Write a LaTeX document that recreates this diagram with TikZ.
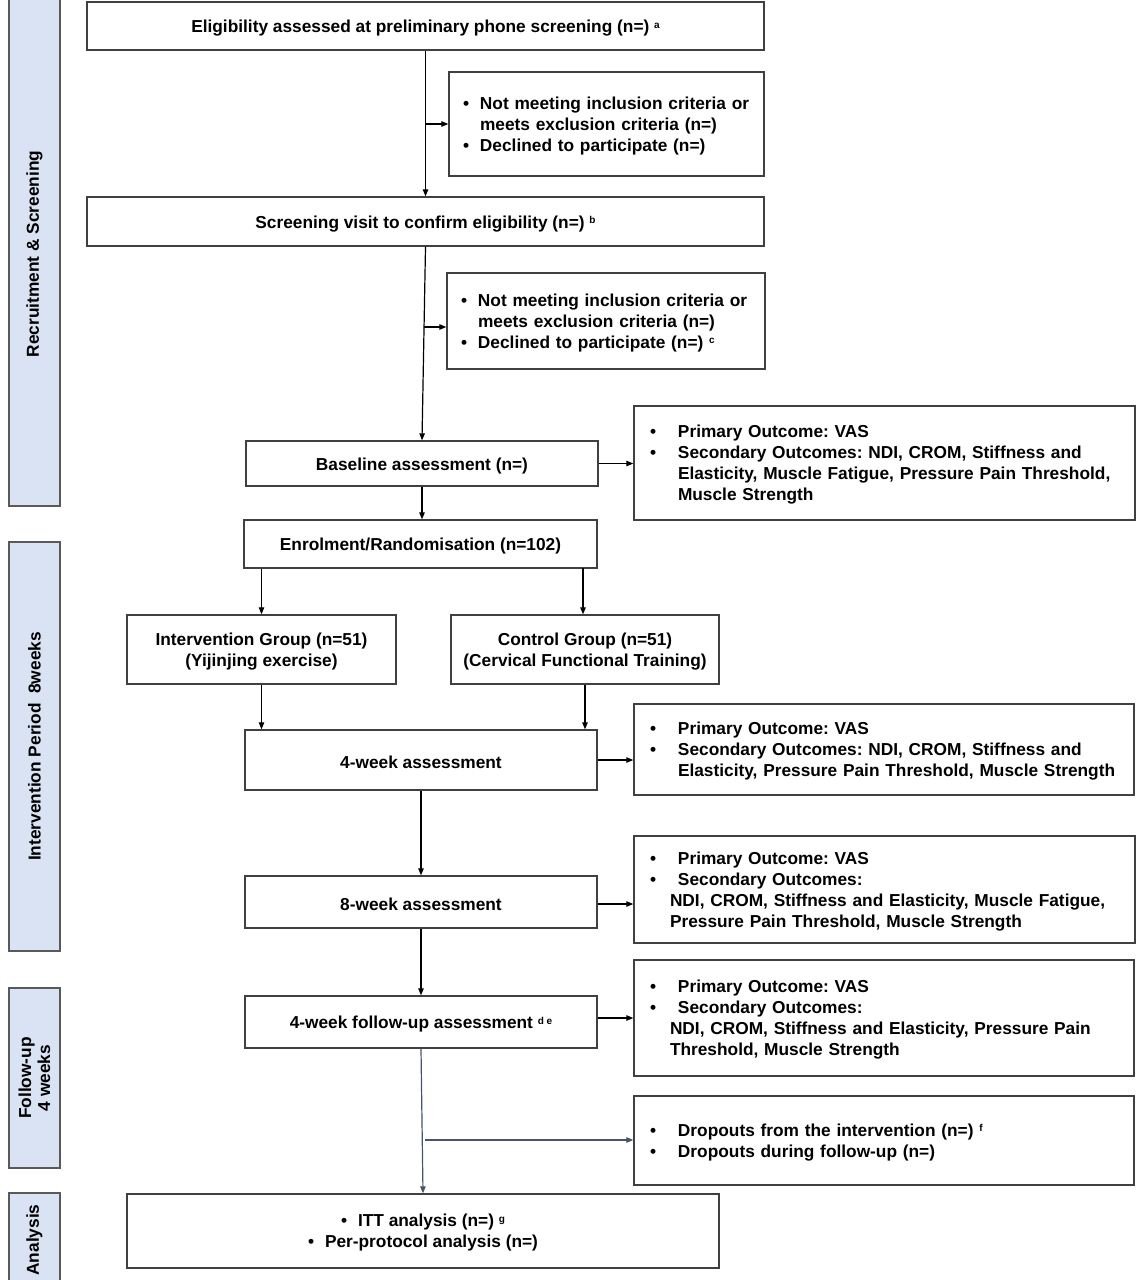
\documentclass[tikz,border=0pt]{standalone}
\usepackage{fontspec}
\setmainfont{Liberation Sans}
\usetikzlibrary{arrows.meta}
\definecolor{barfill}{HTML}{DAE3F3}
\definecolor{barline}{HTML}{595959}
\definecolor{boxline}{HTML}{404040}
\definecolor{slate}{HTML}{44546A}
\frenchspacing
\newcommand{\sups}[1]{{\fontsize{10}{10}\selectfont\raisebox{4.5pt}{#1}}}
\newcommand{\bul}{\makebox[28pt][l]{•}}
\newcommand{\bulx}{\makebox[17pt][l]{•}}
\newcommand{\lowr}[1]{\raisebox{-2.2pt}[\height][\depth]{#1}}
\begin{document}
\begin{tikzpicture}[x=1pt,y=-1pt,
  every node/.style={font=\fontsize{17.3}{21}\selectfont\bfseries},
  box/.style={draw=boxline, line width=1.4pt, fill=white, inner sep=0pt, align=center},
  outbox/.style={box, align=left, inner xsep=16pt, inner ysep=0pt},
  bar/.style={draw=barline, line width=1.4pt, fill=barfill, inner sep=0pt},
  barlabel/.style={rotate=90, align=center},
  arr/.style={-{Triangle[length=7pt,width=5.5pt]}, line width=1.2pt, black},
  arrs/.style={-{Triangle[length=7pt,width=5.5pt]}, line width=1.2pt, slate}
]
\useasboundingbox (0,0) rectangle (1138,1280);
% phase bars
\node[bar, minimum width=51pt, minimum height=512pt] (bar1) at (34.5,250) {};
\node[bar, minimum width=51pt, minimum height=409pt] (bar2) at (34.5,746.5) {};
\node[bar, minimum width=51pt, minimum height=180pt] (bar3) at (34.5,1078) {};
\node[bar, minimum width=51pt, minimum height=100pt] (bar4) at (34.5,1243) {};
\node[barlabel] (lab1) at (bar1.center |- 0,254) {Recruitment \& Screening};
\node[barlabel] (lab2) at (bar2.center) {Intervention Period\ \ 8weeks};
\node[barlabel, font=\fontsize{17.3}{19}\selectfont\bfseries] (lab3) at (bar3.center) {Follow-up\\4 weeks};
\node[barlabel] (lab4) at (34.5,1240) {Analysis};

% main boxes
\node[box, minimum width=677pt, minimum height=48pt] (A) at (425.5,26) {\lowr{Eligibility assessed at preliminary phone screening (n=) \sups{a}}};
\node[outbox, inner xsep=14pt, text width=287pt, minimum height=104pt] (X1) at (606.5,124) {\lowr{\begin{tabular}{@{}l@{}}\bulx Not meeting inclusion criteria or\\ \hspace*{17pt}meets exclusion criteria (n=)\\ \bulx Declined to participate (n=)\end{tabular}}};
\node[box, minimum width=677pt, minimum height=49pt] (B) at (425.5,221.5) {\lowr{Screening visit to confirm eligibility (n=) \sups{b}}};
\node[outbox, inner xsep=14pt, text width=290pt, minimum height=96pt] (X2) at (606,321) {\lowr{\begin{tabular}{@{}l@{}}\bulx Not meeting inclusion criteria or\\ \hspace*{17pt}meets exclusion criteria (n=)\\ \bulx Declined to participate (n=) \sups{c}\end{tabular}}};
\node[box, minimum width=352pt, minimum height=45pt] (Base) at (422,463.5) {\lowr{Baseline assessment (n=)}};
\node[outbox, text width=469pt, minimum height=114pt] (O1) at (884.5,463) {\lowr{\begin{tabular}{@{}l@{}}\bul Primary Outcome: VAS\\ \bul Secondary Outcomes: NDI, CROM, Stiffness and\\ \hspace*{28pt}Elasticity, Muscle Fatigue, Pressure Pain Threshold,\\ \hspace*{28pt}Muscle Strength\end{tabular}}};
\node[box, minimum width=353pt, minimum height=48pt] (Enrol) at (420.5,544) {\lowr{Enrolment/Randomisation (n=102)}};
\node[box, minimum width=269pt, minimum height=69pt] (IG) at (261.5,649.5) {\lowr{\begin{tabular}{@{}c@{}}Intervention Group (n=51)\\(Yijinjing exercise)\end{tabular}}};
\node[box, minimum width=268pt, minimum height=69pt] (CG) at (585,649.5) {\lowr{\begin{tabular}{@{}c@{}}Control Group (n=51)\\(Cervical Functional Training)\end{tabular}}};
\node[box, minimum width=352pt, minimum height=60pt] (W4) at (421,760) {\lowr{4-week assessment}};
\node[outbox, text width=468pt, minimum height=91pt] (O2) at (884,749.5) {\lowr{\begin{tabular}{@{}l@{}}\bul Primary Outcome: VAS\\ \bul Secondary Outcomes: NDI, CROM, Stiffness and\\ \hspace*{28pt}Elasticity, Pressure Pain Threshold, Muscle Strength\end{tabular}}};
\node[box, minimum width=352pt, minimum height=52pt] (W8) at (421,902) {\lowr{8-week assessment}};
\node[outbox, text width=469pt, minimum height=107pt] (O3) at (884.5,889.5) {\lowr{\begin{tabular}{@{}l@{}}\bul Primary Outcome: VAS\\ \bul Secondary Outcomes:\\ \hspace*{20pt}NDI, CROM, Stiffness and Elasticity, Muscle Fatigue,\\ \hspace*{20pt}Pressure Pain Threshold, Muscle Strength\end{tabular}}};
\node[box, minimum width=352pt, minimum height=52pt] (FU) at (421,1022) {\lowr{4-week follow-up assessment \sups{d e}}};
\node[outbox, text width=468pt, minimum height=116pt] (O4) at (884,1018) {\lowr{\begin{tabular}{@{}l@{}}\bul Primary Outcome: VAS\\ \bul Secondary Outcomes:\\ \hspace*{20pt}NDI, CROM, Stiffness and Elasticity, Pressure Pain\\ \hspace*{20pt}Threshold, Muscle Strength\end{tabular}}};
\node[outbox, text width=468pt, minimum height=89pt] (DO) at (884,1140.5) {\lowr{\begin{tabular}{@{}l@{}}\bul Dropouts from the intervention (n=) \sups{f}\\ \bul Dropouts during follow-up (n=)\end{tabular}}};
\node[box, minimum width=592pt, minimum height=74pt] (AN) at (423,1231) {\lowr{\begin{tabular}{@{}c@{}}\bulx ITT analysis (n=) \sups{g}\\ \bulx Per-protocol analysis (n=)\end{tabular}}};

% junction points
\coordinate (j1) at (A.south |- X1.west);
\coordinate (j2) at (424,327);
\coordinate (j3) at (424.5,1140);
\coordinate (e1) at (IG.north |- Enrol.south);
\coordinate (e2) at (583,568);
\coordinate (f1) at ([yshift=4pt]FU.east);

% connectors
\draw[arr] (A) -- (B);
\draw[arr] (j1) -- (X1.west);
\draw[arr] (B.south) -- (Base.north);
\draw[arr] (j2) -- (j2 -| X2.west);
\draw[arr] (Base.east) -- (Base.east -| O1.west);
\draw[arr] (Base.south) -- (Base.south |- Enrol.north);
\draw[arr] (e1) -- (IG.north);
\draw[arr] (e2) -- (e2 |- CG.north);
\draw[arr] (IG.south) -- (IG.south |- W4.north);
\draw[arr] (CG.south) -- (CG.south |- W4.north);
\draw[arr] (W4.east) -- (W4.east -| O2.west);
\draw[arr] (W4.south) -- (W8.north);
\draw[arr] ([yshift=-2pt]W8.east) -- ([yshift=-2pt]W8.east -| O3.west);
\draw[arr] (W8.south) -- (FU.north);
\draw[arr] (f1) -- (f1 -| O4.west);
\draw[arrs] (FU.south) -- (AN.north);
\draw[arrs] (j3) -- (j3 -| DO.west);
\end{tikzpicture}
\end{document}
